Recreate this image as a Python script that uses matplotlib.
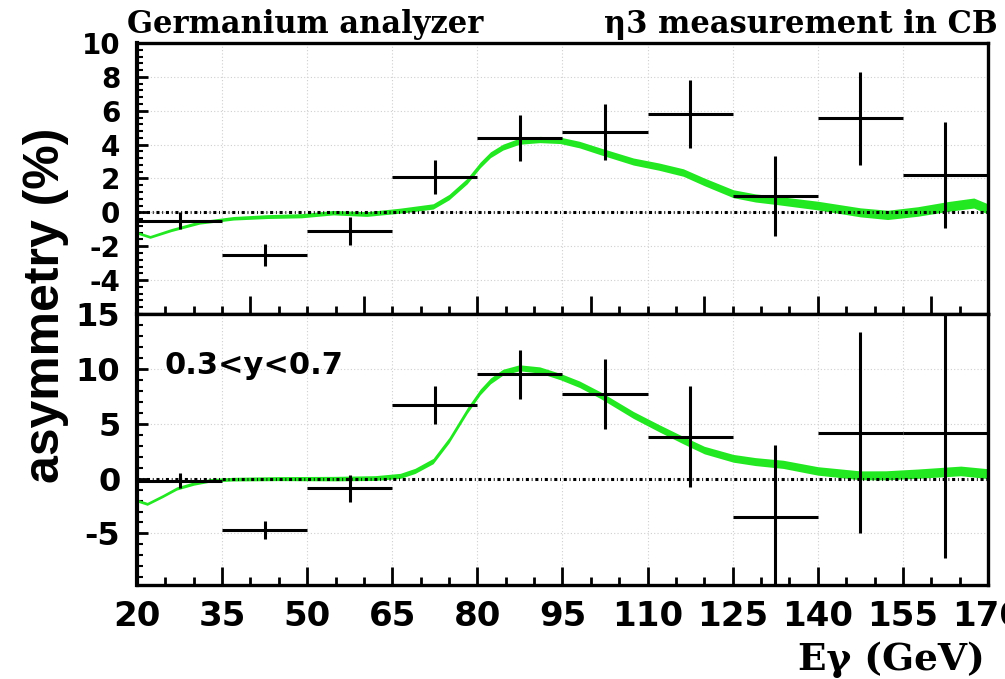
import numpy as np
import matplotlib.pyplot as plt
from matplotlib.ticker import MultipleLocator, NullFormatter

# Photon energy bins (GeV)
bin_lo = [20, 35, 50, 65, 80, 95, 110, 125, 140, 155]
bin_hi = [35, 50, 65, 80, 95, 110, 125, 140, 155, 170]

# Measured asymmetry (%) and errors, full sample
asym_all = [-0.5, -2.5, -1.1, 2.1, 4.4, 4.75, 5.8, 0.95, 5.55, 2.2]
err_all = [0.5, 0.65, 0.85, 1.0, 1.35, 1.65, 2.0, 2.35, 2.75, 3.15]

# Measured asymmetry (%) and errors, 0.3<y<0.7
asym_cut = [-0.2, -4.7, -0.9, 6.7, 9.5, 7.7, 3.8, -3.5, 4.2, 4.2]
err_cut = [0.7, 0.85, 1.2, 1.7, 2.25, 3.2, 4.6, 6.6, 9.2, 11.4]

# Expected asymmetry curves
curve_x_all = [20, 22.3, 26, 31, 37, 43, 49, 54.6, 60.5, 66.4, 72.2, 75, 78.2,
               80.5, 82.3, 84.5, 87.4, 91, 94.6, 98, 101.7, 107.5, 112, 116.3,
               120, 125.1, 129, 132.9, 140, 147.5, 152.3, 157.6, 163, 167.5, 170]
curve_y_all = [-1.2, -1.45, -1.05, -0.6, -0.35, -0.25, -0.2, -0.02, -0.1, 0.1,
               0.35, 0.9, 1.85, 2.8, 3.4, 3.85, 4.2, 4.3, 4.25, 4.0, 3.6, 3.0,
               2.7, 2.35, 1.8, 1.1, 0.85, 0.7, 0.4, 0.0, -0.15, 0.05, 0.35,
               0.55, 0.2]

curve_x_cut = [20, 21.8, 24.5, 27, 30, 33, 37, 45, 55, 62, 66.4, 69, 72.2, 75,
               78.2, 80.5, 82.3, 84.5, 87.4, 91, 94.6, 98, 101.7, 107.5, 112,
               116.3, 120, 125.1, 129, 133.9, 140, 147.5, 152, 157.6, 165.2, 170]
curve_y_cut = [-2.0, -2.3, -1.6, -0.9, -0.45, -0.15, -0.05, 0.0, 0.0, 0.05,
               0.25, 0.7, 1.6, 3.5, 6.2, 7.9, 8.9, 9.7, 10.1, 9.9, 9.3, 8.6,
               7.6, 5.8, 4.6, 3.5, 2.6, 1.85, 1.55, 1.3, 0.7, 0.3, 0.3, 0.45,
               0.7, 0.45]

x_ticks = [20, 35, 50, 65, 80, 95, 110, 125, 140, 155, 170]

plt.rcParams['font.family'] = 'DejaVu Sans'
plt.rcParams['axes.unicode_minus'] = False
green = '#22e822'

fig = plt.figure(figsize=(10.05, 6.79), dpi=100)
ax1 = fig.add_axes([0.1363, 0.5376, 0.8468, 0.3991])
ax2 = fig.add_axes([0.1363, 0.1384, 0.8468, 0.3991])

lo = np.array(bin_lo, dtype=float)
hi = np.array(bin_hi, dtype=float)
centers = (lo + hi) / 2
half = (hi - lo) / 2


def draw_panel(ax, ylim, cx, cy, band, vals, errs, grid_y):
    ax.set_xlim(20, 170)
    ax.set_ylim(*ylim)
    # light dotted grid
    for gx in x_ticks[1:-1]:
        ax.axvline(gx, color='#cfcfcf', lw=0.8, ls=(0, (1, 2)), zorder=0)
    for gy in grid_y:
        ax.axhline(gy, color='#cfcfcf', lw=0.8, ls=(0, (1, 2)), zorder=0)
    # expected curve as a band getting wider with energy
    cx = np.array(cx)
    cy = np.array(cy)
    hw = np.interp(cx, [20, 170], band)
    ax.fill_between(cx, cy - hw, cy + hw, color=green, lw=0, zorder=2)
    ax.axhline(0, color='black', lw=2.2, ls=(0, (1.0, 0.9, 0.3, 0.9)), zorder=3)
    ax.errorbar(centers, vals, xerr=half, yerr=errs, fmt='none',
                ecolor='black', elinewidth=2.2, capsize=0, zorder=4)
    for s in ax.spines.values():
        s.set_linewidth(2.4)
    ax.spines['left'].set_linewidth(3.0)
    ax.tick_params(which='both', direction='in', top=False, right=False,
                   width=2.0)
    ax.tick_params(axis='y', which='major', length=8, pad=12)
    ax.tick_params(axis='y', which='minor', length=4, width=1.5)
    ax.tick_params(axis='x', which='major', length=13)
    ax.tick_params(axis='x', which='minor', length=6)


draw_panel(ax1, (-6, 10), curve_x_all, curve_y_all, [0.08, 0.30],
           asym_all, err_all, range(-4, 10, 2))
ax1.set_yticks(range(-4, 11, 2))
ax1.yaxis.set_minor_locator(MultipleLocator(0.4))
ax1.xaxis.set_major_locator(MultipleLocator(20))
ax1.xaxis.set_minor_locator(MultipleLocator(5))
ax1.xaxis.set_major_formatter(NullFormatter())
for lab in ax1.get_yticklabels():
    lab.set_fontsize(20)
    lab.set_fontweight('bold')

draw_panel(ax2, (-9.7, 15), curve_x_cut, curve_y_cut, [0.13, 0.45],
           asym_cut, err_cut, [-5, 5, 10])
ax2.set_yticks([-5, 0, 5, 10, 15])
ax2.yaxis.set_minor_locator(MultipleLocator(1))
ax2.set_xticks(x_ticks)
ax2.xaxis.set_minor_locator(MultipleLocator(5))
ax2.tick_params(axis='x', which='major', pad=11)
for lab in ax2.get_yticklabels():
    lab.set_fontsize(23)
    lab.set_fontweight('bold')
for lab in ax2.get_xticklabels():
    lab.set_fontsize(24.5)
    lab.set_fontweight('bold')
ax2.text(24.9, 9.5, '0.3<y<0.7', fontsize=22, fontweight='bold',
         ha='left', va='baseline')

fig.text(127 / 1005, 0.951, 'Germanium analyzer', family='DejaVu Serif',
         weight='bold', fontsize=22, ha='left', va='baseline')
fig.text(998 / 1005, 0.951, 'η3 measurement in CB', family='DejaVu Serif',
         weight='bold', fontsize=22, ha='right', va='baseline')
fig.text(985 / 1005, 0.0133, 'Eγ (GeV)', family='DejaVu Serif',
         weight='bold', fontsize=27, ha='right', va='baseline')
fig.text(46 / 1005, 0.551, 'asymmetry (%)', rotation=90, ha='center',
         va='center', family='Liberation Sans', weight='bold', fontsize=36)

fig.savefig('out.png', dpi=100)
